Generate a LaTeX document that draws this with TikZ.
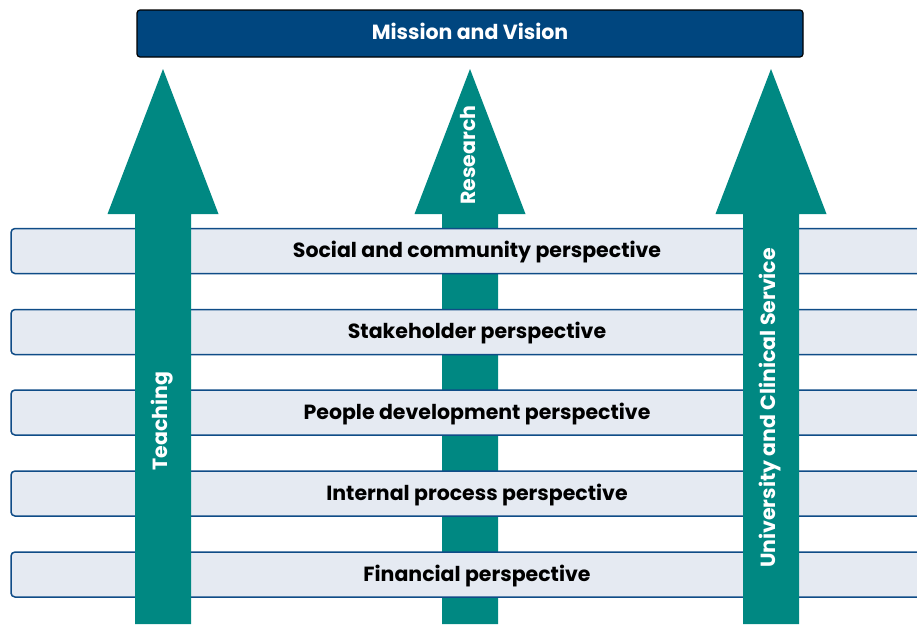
\documentclass[tikz,border=0pt]{standalone}
\usepackage{fontspec}
\setmainfont{Poppins}
\usepackage{tikz}

\definecolor{missionblue}{RGB}{0,70,127}
\definecolor{pillarteal}{RGB}{0,136,130}
\definecolor{barfill}{RGB}{229,234,242}
\definecolor{barline}{RGB}{15,76,135}

\tikzset{
    pillar/.style={fill=pillarteal},
    pillarlabel/.style={text=white, font=\bfseries\fontsize{20.5}{24}\selectfont, rotate=90},
    persp/.style={fill=barfill, draw=barline, line width=1.5pt, rounded corners=4pt},
    persplabel/.style={font=\bfseries\fontsize{20.5}{24}\selectfont},
    missionbox/.style={draw=black, line width=1.2pt, fill=missionblue, rounded corners=3pt,
        minimum width=666pt, minimum height=47pt, text=white, text depth=4pt,
        font=\bfseries\fontsize{20.5}{24}\selectfont}
}

\begin{document}
\begin{tikzpicture}[x=1pt,y=-1pt]
    \clip (0,0) rectangle (917,624);

    % Mission on top
    \node[missionbox] (mission) at (470,33.5) {Mission and Vision};

    % Middle pillar sits behind the perspectives
    \foreach \x in {470} {
        \fill[pillar] (\x-28,624) -- (\x-28,214) -- (\x-55.5,214) -- (\x,69)
            -- (\x+55.5,214) -- (\x+28,214) -- (\x+28,624) -- cycle;
    }

    % Perspectives
    \foreach \y/\name/\txt in {251/social/Social and community perspective,
            332/stake/Stakeholder perspective,
            412.5/people/People development perspective,
            493.5/internal/Internal process perspective,
            574.5/financial/Financial perspective} {
        \draw[persp] (11,\y-22.5) rectangle (940,\y+22.5);
        \node[persplabel] (\name) at (477,\y+1.5) {\txt};
    }

    % Outer pillars in front
    \foreach \x in {163,771} {
        \fill[pillar] (\x-28,624) -- (\x-28,214) -- (\x-55.5,214) -- (\x,69)
            -- (\x+55.5,214) -- (\x+28,214) -- (\x+28,624) -- cycle;
    }

    % Pillar labels
    \node[pillarlabel] (teaching) at (162,421) {Teaching};
    \node[pillarlabel] (research) at (468,155) {Research};
    \node[pillarlabel] (service) at (770,408) {University and Clinical Service};
\end{tikzpicture}
\end{document}
